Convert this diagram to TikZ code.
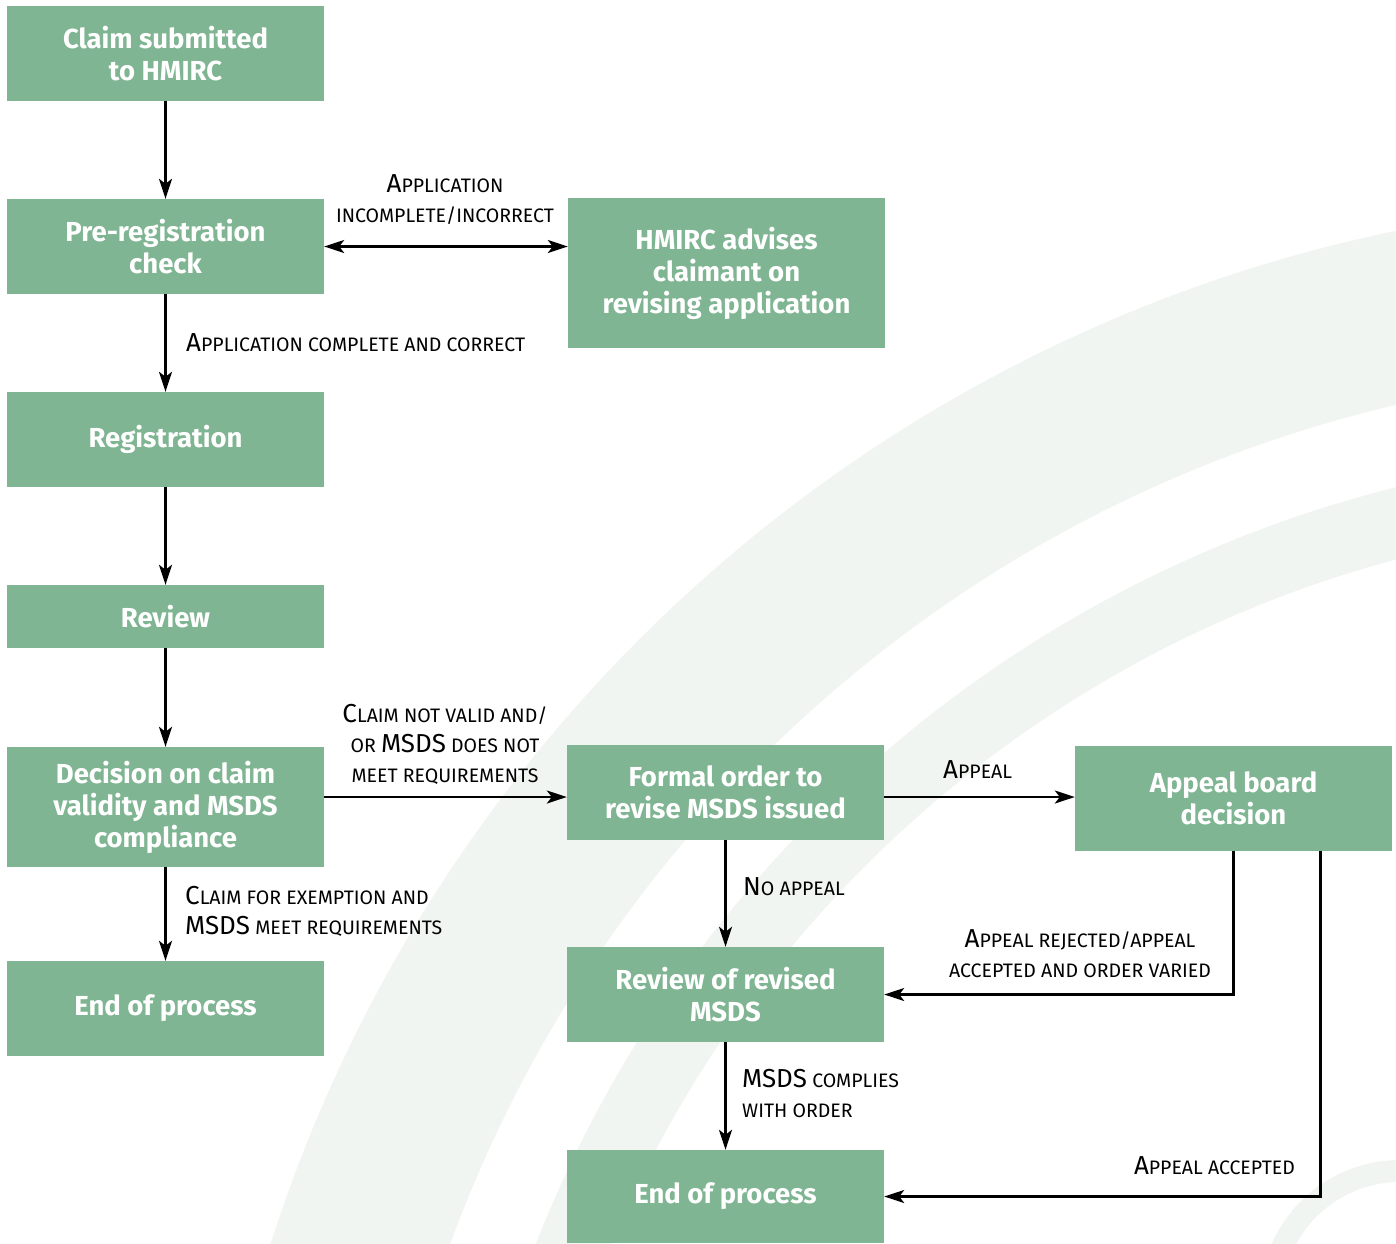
\documentclass[tikz,border=0pt]{standalone}
\usepackage{fontspec}
\setmainfont{Fira Sans}
\newfontfamily\lblfont{Fira Sans}
\usetikzlibrary{arrows.meta,positioning}

\definecolor{boxColour}{HTML}{7FB592}
\definecolor{swooshColour}{HTML}{F1F5F2}
\newcommand{\lblcap}[1]{{\fontsize{26}{30}\selectfont #1}}

\begin{document}
\begin{tikzpicture}[x=1pt, y=-1pt,
    box/.style={fill=boxColour, text=white, font=\bfseries\fontsize{27.5}{32}\selectfont,
                minimum width=317pt, align=center, inner sep=0pt},
    arr/.style={line width=2.2pt, -{Stealth[length=20pt,width=13pt,inset=5pt]}},
    lbl/.style={font=\lblfont\fontsize{19.5}{30}\selectfont, inner sep=0pt}]

    % Background and faint swooshes
    \useasboundingbox (0,0) rectangle (1396,1243);
    \fill[white] (0,0) rectangle (1396,1243);
    \begin{scope}
        \clip (0,0) rectangle (1396,1243);
        \fill[swooshColour, even odd rule] (1700,1700) circle (1500) (1700,1700) circle (1330);
        \fill[swooshColour, even odd rule] (1700,1700) circle (1250) (1700,1700) circle (1180);
        \fill[swooshColour, even odd rule] (1400,1300) circle (140) (1400,1300) circle (118);
    \end{scope}

    % Boxes
    \node[box, minimum height=95pt]  (claim)  at (165.5,53.5)  {Claim submitted\\to HMIRC};
    \node[box, minimum height=95pt]  (prereg) at (165.5,246.5) {Pre-registration\\check};
    \node[box, minimum height=150pt] (advise) at (726.5,273)   {HMIRC advises\\claimant on\\revising application};
    \node[box, minimum height=95pt]  (reg)    at (165.5,439.5) {Registration};
    \node[box, minimum height=63pt]  (review) at (165.5,616.5) {Review};
    \node[box, minimum height=120pt] (decide) at (165.5,807)   {Decision on claim\\validity and MSDS\\compliance};
    \node[box, minimum height=95pt]  (endA)   at (165.5,1008.5) {End of process};
    \node[box, minimum height=95pt]  (order)  at (725.5,792.5) {Formal order to\\revise MSDS issued};
    \node[box, minimum height=105pt] (board)  at (1233.5,798.5) {Appeal board\\decision};
    \node[box, minimum height=95pt]  (revise) at (725.5,994.5) {Review of revised\\MSDS};
    \node[box, minimum height=93pt]  (endB)   at (725.5,1196.5) {End of process};

    % Connectors
    \draw[arr] (claim) -- (prereg);
    \draw[line width=2.2pt, {Stealth[length=20pt,width=13pt,inset=5pt]}-{Stealth[length=20pt,width=13pt,inset=5pt]}]
        (prereg.east) -- (prereg.east -| advise.west);
    \draw[arr] (prereg) -- (reg);
    \draw[arr] (reg) -- (review);
    \draw[arr] (review) -- (decide);
    \draw[arr] (decide.east |- 0,797) -- (order.west |- 0,797);
    \draw[arr] (decide) -- (endA);
    \draw[arr] (order.east |- 0,797) -- (board.west |- 0,797);
    \draw[arr] (order) -- (revise);
    \draw[arr] (board.south) -- (board.south |- revise.east) -- (revise.east);
    \draw[arr] ([xshift=87pt]board.south) |- (endB.east);
    \draw[arr] (revise) -- (endB);

    % Labels
    \node[lbl, align=center] (incomp) at (445,200)
        {\lblcap{A}PPLICATION\\INCOMPLETE/INCORRECT};
    \node[lbl, anchor=west] (comp) at (186,343)
        {\lblcap{A}PPLICATION COMPLETE AND CORRECT};
    \node[lbl, align=center] (invalid) at (445,744)
        {\lblcap{C}LAIM NOT VALID AND/\\OR \lblcap{MSDS} DOES NOT\\MEET REQUIREMENTS};
    \node[lbl, anchor=west] (appeal) at (943,770) {\lblcap{A}PPEAL};
    \node[lbl, anchor=west, align=left] (exempt) at (185,911)
        {\lblcap{C}LAIM FOR EXEMPTION AND\\\lblcap{MSDS} MEET REQUIREMENTS};
    \node[lbl, anchor=west] (noapp) at (743,887) {\lblcap{N}O APPEAL};
    \node[lbl, align=center] (varied) at (1080,954)
        {\lblcap{A}PPEAL REJECTED/APPEAL\\ACCEPTED AND ORDER VARIED};
    \node[lbl, anchor=west, align=left] (comply) at (742,1093)
        {\lblcap{MSDS} COMPLIES\\WITH ORDER};
    \node[lbl, anchor=east] (accepted) at (1295,1166) {\lblcap{A}PPEAL ACCEPTED};

\end{tikzpicture}
\end{document}
